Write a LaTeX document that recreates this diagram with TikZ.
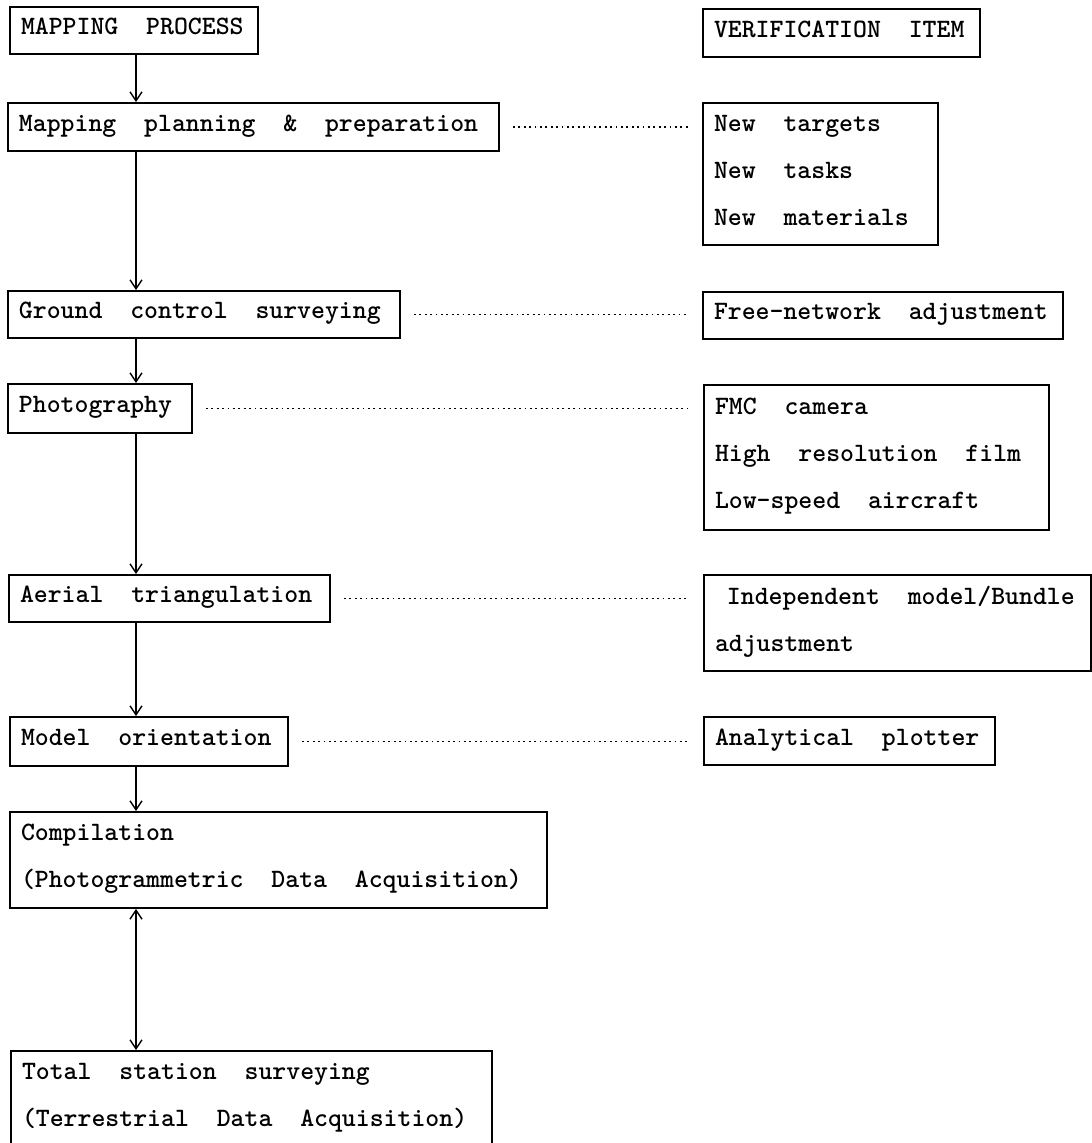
\documentclass[tikz,border=0pt]{standalone}
\usetikzlibrary{arrows.meta}
\newcommand\lstr{\rule[-0.3em]{0pt}{0.9em}}
\newcommand\rowtxt[1]{\lstr\mbox{#1}}
\newcommand\twosp{\hspace*{1.05em}}
\begin{document}
\begin{tikzpicture}[x=1pt,y=-1pt,
  box/.style={draw, line width=1.8pt, inner xsep=11pt, inner ysep=0pt, align=left,
    font=\fontsize{26.5pt}{47pt}\selectfont\ttfamily\bfseries},
  arr/.style={line width=1.4pt, -{Straight Barb[length=9pt,width=12pt,line width=1.4pt]}},
  dblarr/.style={line width=1.4pt, {Straight Barb[length=9pt,width=12pt,line width=1.4pt]}-{Straight Barb[length=9pt,width=12pt,line width=1.4pt]}},
  dotline/.style={line width=1.8pt, dash pattern=on 1.8pt off 3.6pt, shorten <=13pt, shorten >=14pt}]
\useasboundingbox (0,0) rectangle (1092,1143);
\fill[white] (0,0) rectangle (1092,1143);
\coordinate (ax) at (136,0);
% left column
\node[box, text width=226pt, minimum width=248pt, minimum height=47pt] (mp) at (134,30.5) {\rowtxt{MAPPING\twosp PROCESS}};
\node[box, text width=469pt, minimum width=491pt, minimum height=48pt] (plan) at (253.5,127) {\rowtxt{Mapping\twosp planning\twosp\&\twosp preparation}};
\node[box, text width=370pt, minimum width=392pt, minimum height=47pt] (gc) at (204,314.5) {\rowtxt{Ground\twosp control\twosp surveying}};
\node[box, text width=162pt, minimum width=184pt, minimum height=49pt] (ph) at (100,408.5) {\rowtxt{Photography}};
\node[box, text width=299pt, minimum width=321pt, minimum height=47pt] (at) at (169.5,598.5) {\rowtxt{Aerial\twosp triangulation}};
\node[box, text width=256pt, minimum width=278pt, minimum height=49pt] (mo) at (149,741.5) {\rowtxt{Model\twosp orientation}};
\node[box, text width=515pt, minimum width=537pt, minimum height=96pt] (co) at (278.5,860) {\rowtxt{Compilation}\\\rowtxt{(Photogrammetric\twosp Data\twosp Acquisition)}};
\node[box, text width=459pt, minimum width=481pt, minimum height=96pt] (ts) at (251.5,1099) {\rowtxt{Total\twosp station\twosp surveying}\\\rowtxt{(Terrestrial\twosp Data\twosp Acquisition)}};
% right column
\node[box, text width=255pt, minimum width=277pt, minimum height=48pt] (vi) at (841.5,33) {\rowtxt{VERIFICATION\twosp ITEM}};
\node[box, text width=213pt, minimum width=235pt, minimum height=142pt] (nt) at (820.5,174) {\rowtxt{New\twosp targets}\\\rowtxt{New\twosp tasks}\\\rowtxt{New\twosp materials}};
\node[box, text width=338pt, minimum width=360pt, minimum height=47pt] (fn) at (883,315.5) {\rowtxt{Free-network\twosp adjustment}};
\node[box, text width=323pt, minimum width=345pt, minimum height=145pt] (fmc) at (876.5,457.5) {\rowtxt{FMC\twosp camera}\\\rowtxt{High\twosp resolution\twosp film}\\\rowtxt{Low-speed\twosp aircraft}};
\node[box, text width=365pt, minimum width=387pt, minimum height=96pt] (ind) at (897.5,623) {\rowtxt{\hspace*{0.45em}Independent\twosp model/Bundle}\\\rowtxt{adjustment}};
\node[box, text width=269pt, minimum width=291pt, minimum height=48pt] (ap) at (849.5,741) {\rowtxt{Analytical\twosp plotter}};
% arrows
\draw[arr] (mp.south -| ax) -- (plan.north -| ax);
\draw[arr] (plan.south -| ax) -- (gc.north -| ax);
\draw[arr] (gc.south -| ax) -- (ph.north -| ax);
\draw[arr] (ph.south -| ax) -- (at.north -| ax);
\draw[arr] (at.south -| ax) -- (mo.north -| ax);
\draw[arr] (mo.south -| ax) -- (co.north -| ax);
\draw[dblarr] (co.south -| ax) -- (ts.north -| ax);
% dotted links
\draw[dotline] (plan.east) -- (plan.east -| nt.west);
\draw[dotline] (gc.east) -- (gc.east -| fn.west);
\draw[dotline] (ph.east) -- (ph.east -| fmc.west);
\draw[dotline] (at.east) -- (at.east -| ind.west);
\draw[dotline] (mo.east) -- (mo.east -| ap.west);
\end{tikzpicture}
\end{document}
